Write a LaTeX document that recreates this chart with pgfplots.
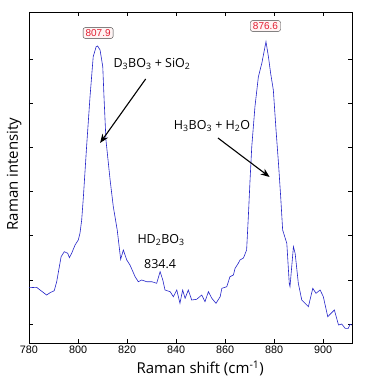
\documentclass[border=0pt]{standalone}
\usepackage{fontspec}
\setmainfont{Open Sans}
\newfontfamily\tickfont{Liberation Sans}
\usepackage{pgfplots}
\pgfplotsset{compat=1.18}
\usetikzlibrary{arrows.meta}
\definecolor{specblue}{RGB}{35,35,200}
\definecolor{peakred}{RGB}{225,30,50}
\definecolor{boxfill}{RGB}{255,244,244}
\begin{document}
\begin{tikzpicture}
\useasboundingbox (-29pt,-38pt) rectangle (336pt,343pt);
\begin{axis}[
  scale only axis, width=323pt, height=331pt,
  xmin=780, xmax=911.8, ymin=0, ymax=331,
  xtick={780,800,...,900},
  ytick={19,63.1,107.2,151.3,195.4,239.5,283.6},
  yticklabels={},
  tick align=inside, major tick length=4pt,
  axis line style={line width=0.8pt},
  tick style={black, line width=0.6pt},
  /pgf/number format/assume math mode=true,
  /pgf/number format/1000 sep={},
  xticklabel style={font=\tickfont\fontsize{10.8}{12}\selectfont, inner sep=2.5pt},
  xlabel={Raman shift (cm\textsuperscript{-1})},
  ylabel={Raman intensity},
  label style={font=\fontsize{15}{17}\selectfont},
  xlabel style={at={(axis description cs:0.53,-0.076)}, anchor=center},
  ylabel style={at={(axis description cs:-0.046,0.51)}, anchor=center},
  clip=false,
]
\addplot[specblue, line width=0.6pt, no marks] table {
780 55.3
783.1 55.7
784.5 53
787.2 48
788.6 50.3
790.3 52.3
791.3 61.3
793.1 86.3
794.4 91.3
795.8 89.7
796.5 85.3
797.4 89.7
798.8 98
800.1 103
800.8 109.7
801.5 123
802.2 146.3
803.5 196.3
804.9 246.3
806.2 286.3
807.4 296.3
808.0 297
809.0 293
810.1 276.3
810.6 246.3
811.4 203
813.1 163
814.4 136.3
816.0 113
817.4 83.7
818.5 93
819.9 83
821.2 78
823.3 66.3
824.6 61.3
826.0 63
828.0 61.3
830.1 61.3
832.1 59.7
833.5 71.3
834.6 63
835.5 53
837.6 51.3
838.9 46.3
840.3 53
841.6 39.7
842.7 53
843.7 44.7
845.0 53
846.4 43
848.4 43.7
850.5 48
851.8 41.3
853.2 51.3
854.6 44.7
856.3 39.7
858.0 46.3
858.7 54.7
860.7 56.3
862.0 66.3
863.4 68
864.1 74.7
865.4 79.7
866.1 83
867.5 85
868.8 93
869.5 126.3
870.2 163
870.9 196.3
872.2 236.3
873.6 266.3
875.0 279.7
876.7 301.3
877.7 286.3
878.6 269.7
879.7 253
880.8 213
881.8 179.7
882.7 146.3
883.5 113
885.2 99.7
886.2 59.7
886.5 56.3
887.9 96.3
888.6 89.7
889.9 59.7
891.3 43
894.0 36.3
895.8 54.7
897.1 49.7
898.8 53
900.1 46.3
901.9 26.3
904.6 33
906.3 18
907.6 19
909.0 14.7
910.3 14.7
911.0 18.7
911.7 18
};
\node[draw=black!75, fill=boxfill, rounded corners=2pt, inner xsep=2.5pt, inner ysep=1.8pt, text=peakred, font=\tickfont\fontsize{10}{11}\selectfont] at (axis cs:808.2,310) {807.9};
\node[draw=black!75, fill=boxfill, rounded corners=2pt, inner xsep=2.5pt, inner ysep=1.8pt, text=peakred, font=\tickfont\fontsize{10}{11}\selectfont] at (axis cs:876.5,317) {876.6};
\node[font=\fontsize{12.5}{14}\selectfont] at (axis cs:830.2,279) {D\textsubscript{3}BO\textsubscript{3} + SiO\textsubscript{2}};
\node[font=\fontsize{12.5}{14}\selectfont] at (axis cs:854.7,217) {H\textsubscript{3}BO\textsubscript{3} + H\textsubscript{2}O};
\node[font=\fontsize{12.5}{14}\selectfont] at (axis cs:833.9,103) {HD\textsubscript{2}BO\textsubscript{3}};
\node[font=\fontsize{12.5}{14}\selectfont] at (axis cs:833.5,79) {834.4};
\draw[line width=1.1pt, -{Stealth[length=9pt, width=7pt]}] (axis cs:827.6,264) -- (axis cs:809,200);
\draw[line width=1.1pt, -{Stealth[length=9pt, width=7pt]}] (axis cs:857.1,205) -- (axis cs:878.2,166);
\end{axis}
\end{tikzpicture}
\end{document}
